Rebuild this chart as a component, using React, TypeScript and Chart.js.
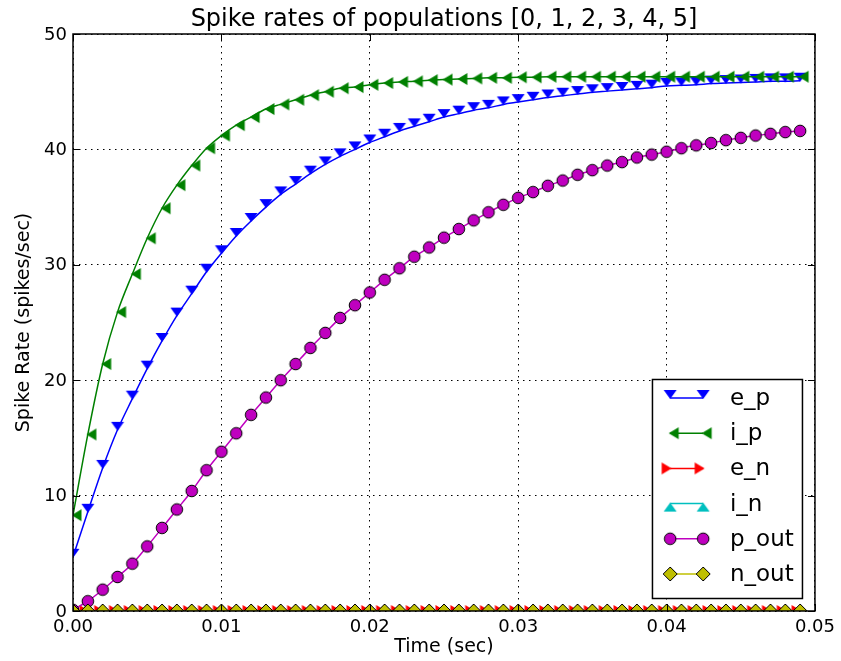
import React, { useEffect, useRef } from "react";
import { Chart, registerables } from "chart.js";

Chart.register(...registerables);

const TITLE = "Spike rates of populations [0, 1, 2, 3, 4, 5]";
const X_LABEL = "Time (sec)";
const Y_LABEL = "Spike Rate (spikes/sec)";
const X_TICKS = [0, 0.01, 0.02, 0.03, 0.04, 0.05];
const Y_TICKS = [0, 10, 20, 30, 40, 50];

const TIME = [
  0.0, 0.001, 0.002, 0.003, 0.004, 0.005, 0.006, 0.007, 0.008, 0.009,
  0.01, 0.011, 0.012, 0.013, 0.014, 0.015, 0.016, 0.017, 0.018, 0.019,
  0.02, 0.021, 0.022, 0.023, 0.024, 0.025, 0.026, 0.027, 0.028, 0.029,
  0.03, 0.031, 0.032, 0.033, 0.034, 0.035, 0.036, 0.037, 0.038, 0.039,
  0.04, 0.041, 0.042, 0.043, 0.044, 0.045, 0.046, 0.047, 0.048, 0.049,
];

const SERIES = ["e_p", "i_p", "e_n", "i_n", "p_out", "n_out"];

const E_P = [
  4.7, 8.6, 12.4, 15.7, 18.4, 21.0, 23.4, 25.6, 27.5, 29.4,
  31.0, 32.5, 33.8, 35.0, 36.1, 37.0, 37.9, 38.7, 39.4, 40.0,
  40.6, 41.1, 41.6, 42.0, 42.4, 42.8, 43.1, 43.4, 43.6, 43.9,
  44.1, 44.3, 44.5, 44.65, 44.8, 44.95, 45.05, 45.15, 45.25, 45.35,
  45.5, 45.55, 45.6, 45.7, 45.75, 45.8, 45.85, 45.9, 45.9, 45.95,
];

const I_P = [
  8.3, 15.3, 21.4, 25.9, 29.2, 32.3, 34.9, 36.9, 38.6, 40.1,
  41.2, 42.1, 42.8, 43.5, 43.9, 44.3, 44.7, 45.0, 45.3, 45.4,
  45.6, 45.75, 45.85, 45.9, 46.0, 46.05, 46.1, 46.15, 46.2, 46.2,
  46.25, 46.25, 46.3, 46.3, 46.3, 46.3, 46.3, 46.3, 46.3, 46.3,
  46.3, 46.3, 46.3, 46.3, 46.3, 46.3, 46.3, 46.3, 46.3, 46.3,
];

const E_N = [
  0, 0, 0, 0, 0, 0, 0, 0, 0, 0,
  0, 0, 0, 0, 0, 0, 0, 0, 0, 0,
  0, 0, 0, 0, 0, 0, 0, 0, 0, 0,
  0, 0, 0, 0, 0, 0, 0, 0, 0, 0,
  0, 0, 0, 0, 0, 0, 0, 0, 0, 0,
];

const I_N = [
  0, 0, 0, 0, 0, 0, 0, 0, 0, 0,
  0, 0, 0, 0, 0, 0, 0, 0, 0, 0,
  0, 0, 0, 0, 0, 0, 0, 0, 0, 0,
  0, 0, 0, 0, 0, 0, 0, 0, 0, 0,
  0, 0, 0, 0, 0, 0, 0, 0, 0, 0,
];

const P_OUT = [
  0.1, 0.85, 1.85, 2.95, 4.1, 5.6, 7.2, 8.8, 10.4, 12.2,
  13.8, 15.4, 17.0, 18.5, 20.0, 21.4, 22.8, 24.1, 25.4, 26.5,
  27.6, 28.7, 29.7, 30.7, 31.5, 32.35, 33.1, 33.85, 34.55, 35.2,
  35.8, 36.3, 36.85, 37.3, 37.8, 38.2, 38.6, 38.9, 39.3, 39.55,
  39.8, 40.1, 40.35, 40.55, 40.8, 41.0, 41.2, 41.35, 41.5, 41.6,
];

const N_OUT = [
  0, 0, 0, 0, 0, 0, 0, 0, 0, 0,
  0, 0, 0, 0, 0, 0, 0, 0, 0, 0,
  0, 0, 0, 0, 0, 0, 0, 0, 0, 0,
  0, 0, 0, 0, 0, 0, 0, 0, 0, 0,
  0, 0, 0, 0, 0, 0, 0, 0, 0, 0,
];

const STYLES = [
  { color: "#0000ff", marker: "down", edge: null as string | null },
  { color: "#008000", marker: "left", edge: null as string | null },
  { color: "#ff0000", marker: "right", edge: null as string | null },
  { color: "#00bfbf", marker: "up", edge: null as string | null },
  { color: "#bf00bf", marker: "circle", edge: "#000000" },
  { color: "#bfbf00", marker: "diamond", edge: "#000000" },
];

const FONT = "'DejaVu Sans', 'Bitstream Vera Sans', sans-serif";
const MS = 30;

function makeMarker(kind: string, fill: string, stroke: string | null): HTMLCanvasElement {
  const c = document.createElement("canvas");
  c.width = MS;
  c.height = MS;
  const g = c.getContext("2d")!;
  const o = MS / 2;
  g.beginPath();
  switch (kind) {
    case "down":
      g.moveTo(o, o + 1);
      g.lineTo(o - 6.5, o - 8);
      g.lineTo(o + 6.5, o - 8);
      break;
    case "up":
      g.moveTo(o, o - 1);
      g.lineTo(o - 6.5, o + 8);
      g.lineTo(o + 6.5, o + 8);
      break;
    case "left":
      g.moveTo(o - 1.5, o);
      g.lineTo(o + 8.5, o - 6);
      g.lineTo(o + 8.5, o + 6);
      break;
    case "right":
      g.moveTo(o + 1.5, o);
      g.lineTo(o - 8.5, o - 6);
      g.lineTo(o - 8.5, o + 6);
      break;
    case "circle":
      g.arc(o, o, 5.8, 0, Math.PI * 2);
      break;
    case "diamond":
      g.moveTo(o, o - 7);
      g.lineTo(o + 7, o);
      g.lineTo(o, o + 7);
      g.lineTo(o - 7, o);
      break;
  }
  g.closePath();
  g.fillStyle = fill;
  g.fill();
  if (stroke) {
    g.lineWidth = 1;
    g.strokeStyle = stroke;
    g.stroke();
  }
  return c;
}

export default function App() {
  const ref = useRef<HTMLCanvasElement>(null);

  useEffect(() => {
    document.body.style.margin = "0";
    const canvas = ref.current!;
    Chart.defaults.font.family = FONT;
    Chart.defaults.color = "#000";

    const markers = STYLES.map((s) => makeMarker(s.marker, s.color, s.edge));
    const values = [E_P, I_P, E_N, I_N, P_OUT, N_OUT];

    const datasets = SERIES.map((name, i) => ({
      label: name,
      data: TIME.map((t, k) => ({ x: t, y: values[i][k] })),
      borderColor: STYLES[i].color,
      backgroundColor: STYLES[i].color,
      borderWidth: 1.5,
      pointStyle: markers[i],
      pointRadius: 6,
      pointHoverRadius: 6,
      cubicInterpolationMode: "monotone" as const,
      clip: 0,
      order: SERIES.length - 1 - i,
    }));

    const framePlugin = {
      id: "mplFrame",
      afterDatasetsDraw(chart: any) {
        const { ctx, chartArea: a, scales } = chart;
        ctx.save();
        const tl = 7;
        ctx.strokeStyle = "#000";
        ctx.lineWidth = 1;
        ctx.beginPath();
        for (const v of X_TICKS) {
          const px = Math.round(scales.x.getPixelForValue(v)) + 0.5;
          ctx.moveTo(px, a.bottom);
          ctx.lineTo(px, a.bottom - tl);
          ctx.moveTo(px, a.top);
          ctx.lineTo(px, a.top + tl);
        }
        for (const v of Y_TICKS) {
          const py = Math.round(scales.y.getPixelForValue(v)) + 0.5;
          ctx.moveTo(a.left, py);
          ctx.lineTo(a.left + tl, py);
          ctx.moveTo(a.right, py);
          ctx.lineTo(a.right - tl, py);
        }
        ctx.stroke();
        ctx.lineWidth = 1.5;
        ctx.strokeRect(a.left, a.top, a.right - a.left, a.bottom - a.top);

        const bw = 150;
        const bh = 219;
        const bx = a.right - 12.5 - bw;
        const by = a.bottom - 12.5 - bh;
        ctx.fillStyle = "#fff";
        ctx.fillRect(bx, by, bw, bh);
        ctx.lineWidth = 1.5;
        ctx.strokeStyle = "#000";
        ctx.strokeRect(bx, by, bw, bh);
        ctx.font = `23px ${FONT}`;
        ctx.textBaseline = "middle";
        ctx.textAlign = "left";
        SERIES.forEach((name, i) => {
          const y = by + 18.5 + i * 35.2;
          const x1 = bx + 17.7;
          const x2 = bx + 50.7;
          ctx.strokeStyle = STYLES[i].color;
          ctx.lineWidth = 1.5;
          ctx.beginPath();
          ctx.moveTo(x1, y);
          ctx.lineTo(x2, y);
          ctx.stroke();
          ctx.drawImage(markers[i], x1 - MS / 2, y - MS / 2);
          ctx.drawImage(markers[i], x2 - MS / 2, y - MS / 2);
          ctx.fillStyle = "#000";
          ctx.fillText(name, bx + 77.5, y + 1);
        });
        ctx.restore();
      },
    };

    const chart = new Chart(canvas, {
      type: "line",
      data: { datasets: datasets as any },
      options: {
        animation: false,
        responsive: false,
        events: [],
        layout: { padding: { left: 0, right: 24, top: 0, bottom: 0 } },
        plugins: {
          legend: { display: false },
          tooltip: { enabled: false },
          title: {
            display: true,
            text: TITLE,
            color: "#000",
            fullSize: false,
            align: "center",
            font: { size: 24, weight: "normal", family: FONT },
            padding: { top: 5, bottom: 0.2 },
          } as any,
        },
        scales: {
          x: {
            type: "linear",
            min: 0,
            max: 0.05,
            afterBuildTicks: (s: any) => {
              s.ticks = X_TICKS.map((v) => ({ value: v }));
            },
            afterFit: (s: any) => {
              s.height = 50;
            },
            ticks: {
              callback: (v: any) => Number(v).toFixed(2),
              font: { size: 18, family: FONT },
              color: "#000",
              padding: 6,
              maxRotation: 0,
              autoSkip: false,
            },
            grid: { color: "#000", lineWidth: 1, drawTicks: false },
            border: { display: false, dash: [1.5, 4.5] },
            title: {
              display: true,
              text: X_LABEL,
              color: "#000",
              font: { size: 19, family: FONT },
              padding: { top: 0, bottom: 3 },
            },
          },
          y: {
            type: "linear",
            min: 0,
            max: 50,
            afterBuildTicks: (s: any) => {
              s.ticks = Y_TICKS.map((v) => ({ value: v }));
            },
            afterFit: (s: any) => {
              s.width = 73;
            },
            ticks: {
              callback: (v: any) => String(v),
              font: { size: 18, family: FONT },
              color: "#000",
              padding: 6,
              labelOffset: 1,
            },
            grid: { color: "#000", lineWidth: 1, drawTicks: false },
            border: { display: false, dash: [1.5, 4.5] },
            title: {
              display: true,
              text: Y_LABEL,
              color: "#000",
              font: { size: 19, family: FONT },
              padding: { top: 13, bottom: 0 },
            },
          },
        },
      },
      plugins: [framePlugin],
    });

    return () => chart.destroy();
  }, []);

  return (
    <div style={{ width: 841, height: 661 }}>
      <canvas ref={ref} width={841} height={661} style={{ display: "block" }} />
    </div>
  );
}
